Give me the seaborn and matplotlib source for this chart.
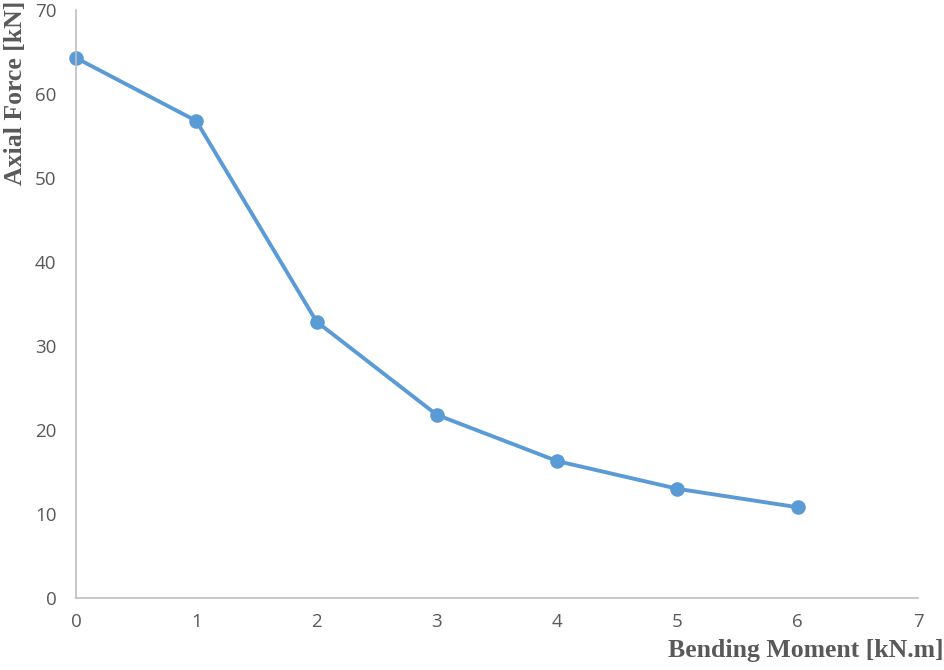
import pandas as pd
import matplotlib.pyplot as plt
import seaborn as sns

# 读取数据
bending_moment = [0, 1, 2, 3, 4, 5, 6]
axial_force = [64.3, 56.8, 32.9, 21.8, 16.3, 13.0, 10.8]
x_ticks = [0, 1, 2, 3, 4, 5, 6, 7]
y_ticks = [0, 10, 20, 30, 40, 50, 60, 70]

df = pd.DataFrame({'moment': bending_moment, 'force': axial_force})

sns.set_style('white')
plt.rcParams['font.family'] = ['Open Sans', 'DejaVu Sans']

fig = plt.figure(figsize=(9.44, 6.7), dpi=100)
ax = fig.add_axes([0.0805, 0.1075, 0.892, 0.8775])

sns.lineplot(data=df, x='moment', y='force', ax=ax, color='#5B9BD5',
             linewidth=2.8, marker='o', markersize=10.5, markeredgewidth=0,
             clip_on=False)

ax.set_xlim(0, 7)
ax.set_ylim(0, 70)
ax.set_xticks(x_ticks)
ax.set_yticks(y_ticks)
ax.tick_params(axis='both', length=0, labelsize=13.5, labelcolor='#595959')
ax.tick_params(axis='y', pad=14)
ax.tick_params(axis='x', pad=11)

for side in ['top', 'right']:
    ax.spines[side].set_visible(False)
for side in ['left', 'bottom']:
    ax.spines[side].set_color('#BFBFBF')
    ax.spines[side].set_linewidth(1.2)

ax.set_xlabel('')
ax.set_ylabel('')
fig.text(0.999, 0.012, 'Bending Moment [kN.m]', ha='right', va='bottom',
         fontsize=18.5, fontweight='bold', color='#595959', family='Liberation Serif')
fig.text(0.004, 0.999, 'Axial Force [kN]', ha='left', va='top', rotation=90,
         fontsize=18.5, fontweight='bold', color='#595959', family='Liberation Serif')

fig.savefig('out.png', dpi=100)
plt.close()
